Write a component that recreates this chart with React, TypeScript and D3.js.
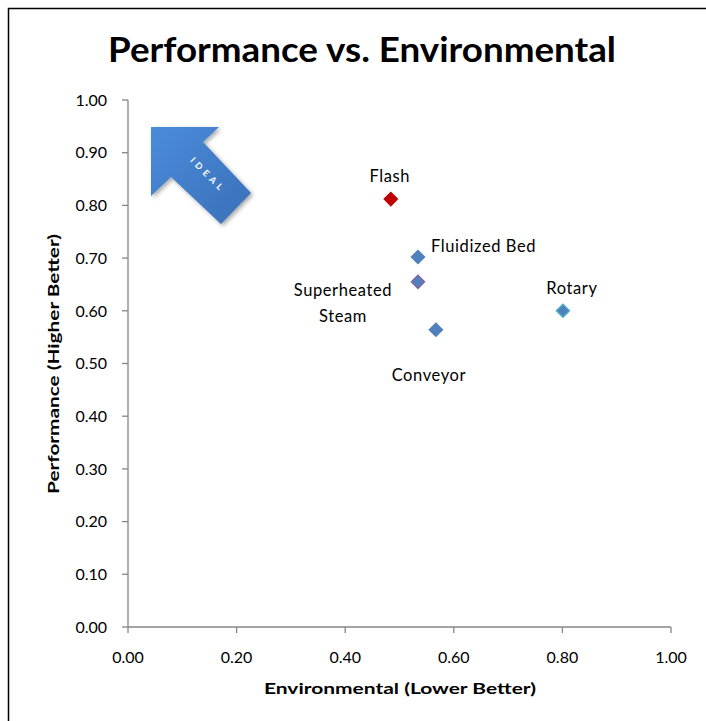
import React from "react";
import * as d3 from "d3";

const names = ["Flash", "Fluidized Bed", "Superheated Steam", "Conveyor", "Rotary"];
const envValues = [0.484, 0.534, 0.534, 0.567, 0.801];
const perfValues = [0.812, 0.702, 0.655, 0.564, 0.6];
const xTicks = [0, 0.2, 0.4, 0.6, 0.8, 1.0];
const yTicks = [0, 0.1, 0.2, 0.3, 0.4, 0.5, 0.6, 0.7, 0.8, 0.9, 1.0];

const fills = ["#C00000", "#4F81BD", "#4F81BD", "#4F81BD", "#4F81BD"];
const strokes = ["#C00000", "#4F81BD", "#8064A2", "#4F81BD", "#4BACC6"];

const W = 706, H = 721;
const font = "Lato, 'Open Sans', sans-serif";

export default function App() {
  const x = d3.scaleLinear().domain([0, 1]).range([128, 671]);
  const y = d3.scaleLinear().domain([0, 1]).range([627, 100]);
  const axisColor = "#868686";
  const diamond = (cx: number, cy: number, r: number) =>
    `M${cx},${cy - r}L${cx + r},${cy}L${cx},${cy + r}L${cx - r},${cy}Z`;

  const labelDefs: { lines: string[]; dx: number; dy: number; anchor: string }[] = [
    { lines: ["Flash"], dx: -1, dy: -23, anchor: "middle" },
    { lines: ["Fluidized Bed"], dx: 13, dy: -11, anchor: "start" },
    { lines: ["Superheated", "Steam"], dx: -75, dy: 8, anchor: "middle" },
    { lines: ["Conveyor"], dx: -7, dy: 45, anchor: "middle" },
    { lines: ["Rotary"], dx: 9, dy: -23, anchor: "middle" },
  ];

  const arrowPts: [number, number][] = [
    [151, 127], [219, 127], [203, 142], [251, 193], [221, 224], [171, 177], [151, 196],
  ];

  return (
    <svg width={W} height={H} style={{ position: "absolute", left: 0, top: 0, display: "block" }}>
      <defs>
        <linearGradient id="arrowGrad" x1="0" y1="0" x2="1" y2="1">
          <stop offset="0%" stopColor="#4A8CDA" />
          <stop offset="100%" stopColor="#3A6FB8" />
        </linearGradient>
        <filter id="shadow" x="-20%" y="-20%" width="140%" height="140%">
          <feDropShadow dx="2" dy="2" stdDeviation="2" floodColor="#000" floodOpacity="0.35" />
        </filter>
      </defs>
      <rect x={0} y={0} width={W} height={H} fill="#fff" />
      <rect x={8.5} y={8.5} width={W + 20} height={H + 20} fill="none" stroke="#000" strokeWidth={1.5} />

      <text x={362} y={62} textAnchor="middle" fontFamily={font} fontWeight="bold" fontSize={34}
        textLength={508} lengthAdjust="spacingAndGlyphs" fill="#000">
        Performance vs. Environmental
      </text>

      {/* Y axis */}
      <line x1={128} x2={128} y1={y(1)} y2={y(0)} stroke={axisColor} strokeWidth={1.3} />
      {yTicks.map((t) => (
        <g key={"y" + t}>
          <line x1={122} x2={128} y1={y(t)} y2={y(t)} stroke={axisColor} strokeWidth={1.3} />
          <text x={107} y={y(t)} dy="0.36em" textAnchor="end" fontFamily={font} fontSize={16} fill="#000">
            {d3.format(".2f")(t)}
          </text>
        </g>
      ))}
      {/* X axis */}
      <line x1={x(0)} x2={x(1)} y1={627} y2={627} stroke={axisColor} strokeWidth={1.3} />
      {xTicks.map((t) => (
        <g key={"x" + t}>
          <line x1={x(t)} x2={x(t)} y1={627} y2={633} stroke={axisColor} strokeWidth={1.3} />
          <text x={x(t)} y={663} textAnchor="middle" fontFamily={font} fontSize={16} fill="#000">
            {d3.format(".2f")(t)}
          </text>
        </g>
      ))}

      <text x={400} y={694} textAnchor="middle" fontFamily={font} fontWeight="bold" fontSize={15.5} fill="#000"
        textLength={272} lengthAdjust="spacingAndGlyphs">
        Environmental (Lower Better)
      </text>
      <text transform={`translate(59,364) rotate(-90)`} textAnchor="middle" fontFamily={font} fontWeight="bold"
        fontSize={15.5} fill="#000" textLength={260} lengthAdjust="spacingAndGlyphs">
        Performance (Higher Better)
      </text>

      {/* Ideal arrow */}
      <g filter="url(#shadow)">
        <polygon points={arrowPts.map((p) => p.join(",")).join(" ")} fill="url(#arrowGrad)" />
      </g>
      <text transform="translate(208,175) rotate(45)" textAnchor="middle" fontFamily={font} fontWeight="bold"
        fontSize={9} letterSpacing={4} fill="#fff" dy="0.35em">
        IDEAL
      </text>

      {/* points */}
      {names.map((n, i) => (
        <path key={n} d={diamond(x(envValues[i]), y(perfValues[i]), 6.5)} fill={fills[i]}
          stroke={strokes[i]} strokeWidth={1.5} />
      ))}
      {names.map((n, i) => {
        const L = labelDefs[i];
        const px = x(envValues[i]) + L.dx;
        const py = y(perfValues[i]) + L.dy;
        return (
          <text key={"l" + n} x={px} y={py} textAnchor={L.anchor} fontFamily={font} fontSize={16.5}
            letterSpacing={0.6} fill="#000">
            {L.lines.map((ln, j) => (
              <tspan key={j} x={px} dy={j === 0 ? "0.35em" : "1.6em"}>{ln}</tspan>
            ))}
          </text>
        );
      })}
    </svg>
  );
}
